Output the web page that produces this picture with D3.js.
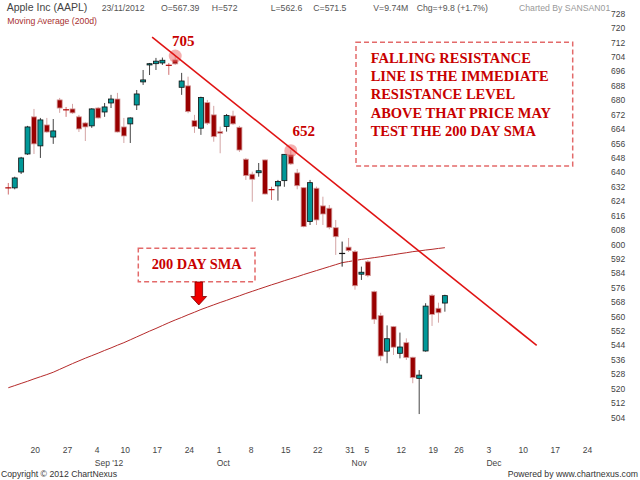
<!DOCTYPE html>
<html>
  <head>
    <style>
      body {
        margin: 0;
        background: #fff;
        font-family: "Liberation Sans", Arial, sans-serif;
      }
      .hdr { font-size: 8.7px; fill: #555; }
      .axis text { font-size: 8.5px; fill: #444; font-family: "Liberation Sans", Arial, sans-serif; }
      .note { font-family: "Liberation Serif", "Times New Roman", serif; font-weight: bold; fill: #c80000; }
      .box { fill: none; stroke: #e36a6a; stroke-width: 1.5px; stroke-dasharray: 5,3; }
    </style>
  </head>
  <body>
    <script src="https://d3js.org/d3.v7.min.js"></script>
    <script>
    // candles, one per trading day from 15 Aug 2012 to 23 Nov 2012 (index 1..69)
    var open  = [631.3,631.3,640.1,650.1,670.7,654.6,666.2,659.5,680.1,674.6,
                 675.1,670.7,667.3,665.7,675.6,673.4,678.4,680.6,665.1,666.8,
                 677.3,690.1,699.5,700.2,700.6,699.3,702.3,687.1,687.9,668.6,
                 664.4,678.6,671.8,662.5,665.3,671.2,664.9,647.2,638.9,639.7,
                 646.8,630.3,632.4,635.3,649.6,639.6,631.4,612.6,631.1,621.3,
                 620.0,609.2,594.9,598.4,595.9,583.4,590.3,573.7,560.4,540.7,
                 554.3,539.5,545.4,537.3,525.6,540.8,571.7,564.5,567.39];
    var high  = [634.0,637.5,648.5,665.7,675.1,670.1,670.1,669.5,681.2,676.2,
                 677.9,671.8,667.9,675.5,676.2,678.4,682.9,684.0,670.1,670.4,
                 685.6,696.7,700.6,703.4,703.6,700.6,705.0,695.1,693.0,671.8,
                 681.9,680.1,676.8,665.3,672.3,674.1,665.7,647.9,640.3,645.1,
                 647.0,631.9,635.7,650.1,652.5,641.8,631.6,635.7,632.0,626.4,
                 621.8,613.5,601.5,603.5,596.8,587.6,591.2,574.3,562.0,555.0,
                 554.7,551.0,547.8,537.6,530.2,567.3,572.4,567.6,572];
    var low   = [627.6,630.5,639.0,649.6,650.1,647.9,661.8,655.7,672.9,670.7,
                 672.4,662.3,657.3,664.6,669.8,670.7,675.6,662.0,656.2,656.2,
                 674.5,688.4,693.9,696.7,699.5,694.0,699.5,682.9,672.7,661.8,
                 660.7,666.2,656.9,650.5,662.5,666.2,651.2,635.7,623.6,637.5,
                 627.6,624.6,624.2,631.9,644.0,630.5,609.4,610.7,610.7,610.7,
                 608.3,594.1,587.6,595.7,574.8,580.2,581.7,555.8,535.4,534.0,
                 538.6,536.7,535.8,522.9,505.8,540.4,554.7,556.5,562.6];
    var close = [630.9,636.8,647.9,665.1,655.7,669.0,662.3,662.9,675.6,674.4,
                 672.9,664.0,665.1,675.1,670.1,676.2,680.6,662.3,660.1,670.1,
                 683.4,691.2,700.2,701.6,702.1,698.9,700.1,690.6,673.6,665.3,
                 681.4,667.2,659.7,661.6,671.4,666.8,652.3,638.1,636.1,640.8,
                 627.9,630.0,634.8,649.9,644.6,632.5,609.8,634.2,613.5,616.8,
                 609.4,604.2,595.3,596.5,577.0,584.5,582.6,558.4,538.0,547.6,
                 542.9,543.0,537.1,526.0,527.4,565.7,561.1,562.0,571.5];
    // 200 day simple moving average
    var sma200 = [520.4,521.6,522.8,524.0,525.3,526.5,527.7,529.0,530.6,532.2,
                  533.8,535.3,536.8,538.2,539.6,541.1,542.5,544.0,545.4,547.0,
                  548.6,550.2,551.8,553.3,554.9,556.5,558.0,559.4,560.9,562.3,
                  563.8,565.1,566.4,567.7,568.9,570.2,571.4,572.7,573.9,575.1,
                  576.3,577.5,578.6,579.8,580.9,582.0,583.2,584.3,585.4,586.5,
                  587.6,588.7,589.8,590.4,591.0,591.6,592.1,592.6,593.1,593.7,
                  594.2,594.8,595.3,595.9,596.3,596.8,597.2,597.7,598.1];

    var yTicks = d3.range(504, 729, 8);
    var dayTicks  = [4,9,14,18,23,28,33,38,43,48,53,56,61,66,70,75,80,85,90];
    var dayLabels = ["20","27","4","10","17","24","1","8","15","22","31","5","12","19","26","3","10","17","24"];
    var monthTicks  = [14,33,54,75];
    var monthLabels = ["Sep '12","Oct","Nov","Dec"];

    // falling resistance line (candle index, price)
    var resistIdx = [23.4, 83.3];
    var resistPrice = [714.9, 543.9];
    // highlighted highs
    var peakIdx = [27, 45];
    var peakPrice = [705, 652.5];
    var peakLabels = ["705", "652"];

    var headerTexts = ["23/11/2012","O=567.39","H=572","L=562.6","C=571.5","V=9.74M","Chg=+9.8 (+1.7%)"];
    var headerX = [101.7, 161, 211.7, 270.7, 313.3, 373.3, 416.7];
    var noteLines = ["FALLING RESISTANCE","LINE IS THE IMMEDIATE","RESISTANCE LEVEL",
                     "ABOVE THAT PRICE MAY","TEST THE 200 DAY SMA"];

    var width = 640, height = 480;
    var svg = d3.select("body").append("svg")
        .attr("width", width).attr("height", height);

    var x = d3.scaleLinear().domain([1, 90]).range([8.3, 579.7]);
    var y = d3.scaleLinear().domain([504, 720]).range([417.3, 28]);

    // header
    svg.append("text").attr("x", 6.7).attr("y", 10.5)
        .attr("font-size", "10.5px").attr("fill", "#444").text("Apple Inc (AAPL)");
    svg.selectAll(".hdr-item").data(headerTexts).enter().append("text")
        .attr("class", "hdr").attr("x", (d, i) => headerX[i]).attr("y", 10.5).text(d => d);
    svg.append("text").attr("class", "hdr").attr("x", 519).attr("y", 10.5)
        .style("fill", "#999").text("Charted By SANSAN01");
    svg.append("text").attr("class", "hdr").attr("x", 7.3).attr("y", 23.5)
        .style("fill", "#a83030").attr("font-size", "8.4px").text("Moving Average (200d)");

    // axes
    var yAxis = svg.append("g").attr("class", "axis")
        .attr("transform", "translate(608,0)")
        .call(d3.axisRight(y).tickValues(yTicks).tickSize(0).tickPadding(3));
    yAxis.select(".domain").remove();

    var xAxis = svg.append("g").attr("class", "axis")
        .attr("transform", "translate(0,447)")
        .call(d3.axisBottom(x).tickValues(dayTicks).tickSize(0).tickFormat((d, i) => dayLabels[i]));
    xAxis.select(".domain").remove();
    xAxis.selectAll("text").attr("text-anchor", "start").attr("x", 2.5).attr("y", 0);

    var mAxis = svg.append("g").attr("class", "axis")
        .attr("transform", "translate(0,459.5)")
        .call(d3.axisBottom(x).tickValues(monthTicks).tickSize(0).tickFormat((d, i) => monthLabels[i]));
    mAxis.select(".domain").remove();
    mAxis.selectAll("text").attr("text-anchor", "start").attr("x", 2.5).attr("y", 0);

    // footer
    svg.append("text").attr("class", "hdr").attr("x", 1).attr("y", 476.5)
        .style("fill", "#333").text("Copyright \u00a9 2012 ChartNexus");
    svg.append("text").attr("class", "hdr").attr("x", 638).attr("y", 476.5)
        .attr("text-anchor", "end").style("fill", "#333").text("Powered by www.chartnexus.com");

    // moving average
    svg.append("path").datum(sma200)
        .attr("fill", "none").attr("stroke", "#b52a2a").attr("stroke-width", 1)
        .attr("d", d3.line().x((d, i) => x(i + 1)).y(d => y(d)));

    // candles
    var candles = svg.append("g").selectAll("g").data(d3.range(open.length)).enter().append("g");
    function isDoji(i) { return Math.abs(open[i] - close[i]) < 0.5; }
    function isUp(i) { return close[i] >= open[i]; }

    candles.append("line")
        .attr("x1", i => x(i + 1)).attr("x2", i => x(i + 1))
        .attr("y1", i => y(high[i])).attr("y2", i => y(low[i]))
        .attr("stroke", i => isDoji(i) ? (isUp(i) ? "#222" : "#d07070") : (isUp(i) ? "#444" : "#d4a4a4"))
        .attr("stroke-width", 1);

    candles.filter(i => !isDoji(i)).append("rect")
        .attr("x", i => x(i + 1) - 2.5)
        .attr("width", 5)
        .attr("y", i => y(Math.max(open[i], close[i])))
        .attr("height", i => Math.max(1, Math.abs(y(open[i]) - y(close[i]))))
        .attr("fill", i => isUp(i) ? "#009898" : "#990000")
        .attr("stroke", i => isUp(i) ? "#111" : "#d49a9a")
        .attr("stroke-width", 0.8);

    candles.filter(i => isDoji(i)).append("line")
        .attr("x1", i => x(i + 1) - 3).attr("x2", i => x(i + 1) + 3)
        .attr("y1", i => y(open[i])).attr("y2", i => y(open[i]))
        .attr("stroke", i => isUp(i) ? "#111" : "#b00000")
        .attr("stroke-width", 1.2);

    // peak markers
    svg.selectAll(".peak").data(peakIdx).enter().append("circle")
        .attr("cx", d => x(d)).attr("cy", (d, i) => y(peakPrice[i]) + 1)
        .attr("r", 6.5).attr("fill", "rgba(235,95,95,0.5)");
    svg.selectAll(".peak-label").data(peakLabels).enter().append("text")
        .attr("class", "note").attr("font-size", "15px").attr("text-anchor", "middle")
        .attr("x", (d, i) => x(peakIdx[i]) + (i === 0 ? 8 : 13))
        .attr("y", (d, i) => y(peakPrice[i]) + (i === 0 ? -9 : -13.5))
        .text(d => d);

    // falling resistance line
    svg.append("line")
        .attr("x1", x(resistIdx[0])).attr("y1", y(resistPrice[0]))
        .attr("x2", x(resistIdx[1])).attr("y2", y(resistPrice[1]))
        .attr("stroke", "#e01414").attr("stroke-width", 1.6);

    // callout: resistance note
    svg.append("rect").attr("class", "box")
        .attr("x", 356).attr("y", 42.3).attr("width", 216.7).attr("height", 123.7);
    svg.selectAll(".note-line").data(noteLines).enter().append("text")
        .attr("class", "note").attr("font-size", "14.5px")
        .attr("x", 370.7).attr("y", (d, i) => 62.7 + i * 18.3).text(d => d);

    // callout: 200 day SMA with arrow
    svg.append("rect").attr("class", "box")
        .attr("x", 138.3).attr("y", 248.3).attr("width", 116.7).attr("height", 33.4);
    svg.append("text").attr("class", "note").attr("font-size", "14.4px")
        .attr("text-anchor", "middle").attr("x", 196.7).attr("y", 268.5).text("200 DAY SMA");
    svg.append("path")
        .attr("d", "M195,282 L202.6,282 L202.6,296.5 L206.6,296.5 L198.8,305 L191,296.5 L195,296.5 Z")
        .attr("fill", "#f00000").attr("stroke", "#7a0000").attr("stroke-width", 0.8);
    </script>
  </body>
</html>
